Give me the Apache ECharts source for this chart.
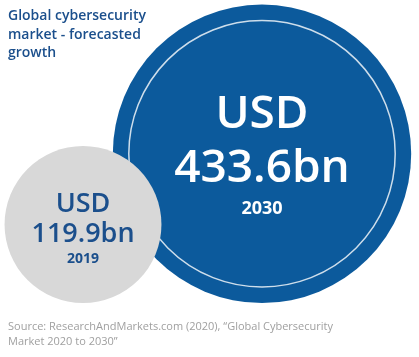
<!DOCTYPE html>
<html><head><meta charset="utf-8">
<script src="https://cdn.jsdelivr.net/npm/echarts@6/dist/echarts.min.js"></script>
<style>html,body{margin:0;padding:0;background:#fff}#c{width:419px;height:357px}</style>
</head><body><div id="c"></div>
<script>
const years = ['2019', '2030'];
const yearNums = [2019, 2030];
const values = [119.9, 433.6];
const valueLabels = ['119.9bn', '433.6bn'];
const titleText = 'Global cybersecurity\nmarket - forecasted\ngrowth';
const sourceText = 'Source: ResearchAndMarkets.com (2020), \u201cGlobal Cybersecurity\nMarket 2020 to 2030\u201d';

const K = 14.33;
const sizeOf = v => K * Math.sqrt(v);
const FONT = 'Open Sans';
const BLUE = '#0c5a9c';
const GREY = '#d8d8d8';
const TXT = '#1b4f8c';

const chart = echarts.init(document.getElementById('c'), null, {renderer: 'canvas'});

function bubble(i, z) {
  const big = i === 1;
  const s = sizeOf(values[i]);
  return {
    type: 'scatter', z: z, clip: false, silent: true,
    symbol: 'circle', symbolSize: s, symbolOffset: [0, -s / 2],
    itemStyle: {color: big ? BLUE : GREY, opacity: 1},
    data: [[yearNums[i], 0]],
    label: {
      show: true, position: 'inside', offset: big ? [0, 1] : [0, 4],
      formatter: () => big
        ? '{a|USD}\n{a|' + valueLabels[i] + '}\n{b|' + years[i] + '}'
        : '{c|USD}\n{c|' + valueLabels[i] + '}\n{d|' + years[i] + '}',
      rich: {
        a: {fontFamily: FONT, fontWeight: 600, fontSize: 46, lineHeight: 54, color: '#fff', align: 'center'},
        b: {fontFamily: FONT, fontWeight: 700, fontSize: 18, lineHeight: 26, color: '#fff', align: 'center'},
        c: {fontFamily: FONT, fontWeight: 600, fontSize: 27, lineHeight: 30, color: TXT, align: 'center'},
        d: {fontFamily: FONT, fontWeight: 700, fontSize: 14, lineHeight: 18, color: TXT, align: 'center'}
      }
    }
  };
}

const ringSize = sizeOf(values[1]) - 32;
const option = {
  animation: false,
  grid: {left: 83, right: 157, top: 0, height: 303, containLabel: false},
  xAxis: {type: 'value', min: yearNums[0], max: yearNums[1], show: false},
  yAxis: {type: 'value', min: 0, max: 1, show: false},
  graphic: [
    {type: 'text', left: 8, top: 7, style: {text: titleText, font: '600 14px "Open Sans"', fill: TXT, lineHeight: 18.5}},
    {type: 'text', left: 8, top: 320, style: {text: sourceText, font: '11px "Open Sans"', fill: '#a0a0a0', lineHeight: 14.5}}
  ],
  series: [
    bubble(1, 1),
    {
      type: 'scatter', z: 2, clip: false, silent: true,
      symbol: 'circle', symbolSize: ringSize, symbolOffset: [0, -sizeOf(values[1]) / 2],
      itemStyle: {color: 'rgba(0,0,0,0)', borderColor: '#ffffff', borderWidth: 1.5},
      data: [[yearNums[1], 0]]
    },
    bubble(0, 3)
  ]
};
chart.setOption(option);
</script></body></html>
